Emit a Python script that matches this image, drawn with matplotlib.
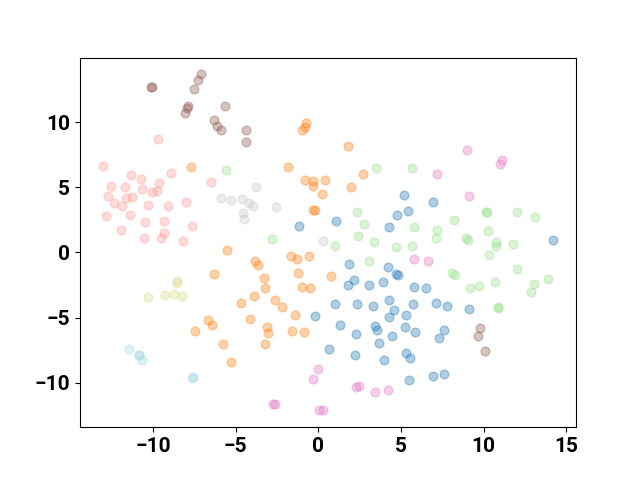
import numpy as np
import matplotlib
matplotlib.use('Agg')
import matplotlib.pyplot as plt

plt.rcParams['font.family'] = ['Roboto', 'DejaVu Sans']
plt.rcParams['font.weight'] = 'bold'

# embedded points per cluster (x, y)
blue_x = [5.21, 5.45, 4.78, 1.07, -1.19, 4.28, 6.94, 14.23, 1.86, 4.24, 4.70, 4.82,
          2.14, 1.77, 3.07, 3.89, 5.77, 6.52, 0.99, 2.34, 3.33, 4.26, 4.60, 5.75,
          5.33, 4.26, -0.22, 1.31, 2.26, 3.45, 3.57, 4.48, 5.22, 5.87, 3.65, 0.62,
          2.24, 3.95, 5.33, 5.57, 5.51, 7.14, 7.77, 9.12, 7.63, 7.32, 6.96, 7.58]
blue_y = [4.44, 3.18, 2.84, 2.38, 2.02, 1.92, 3.88, 0.97, -0.91, -1.10, -1.68, -1.74,
          -2.10, -2.53, -2.46, -2.28, -2.66, -2.69, -3.94, -3.92, -4.13, -3.64, -4.39, -3.92,
          -4.77, -4.98, -4.88, -5.58, -6.27, -5.65, -5.91, -6.39, -5.70, -6.08, -6.91, -7.37,
          -7.89, -8.25, -7.71, -8.07, -9.77, -3.90, -4.08, -4.36, -5.98, -6.53, -9.44, -9.31]

orange_x = [-7.73, -0.73, -0.83, -0.99, 1.77, -1.86, 2.71, -0.79, -0.35, -0.30, 0.38, 2.00,
            0.24, -0.30, -0.18, -5.55, -6.31, -1.65, -1.29, -0.54, -3.86, -3.67, -1.21, 0.79,
            -3.31, -3.21, -0.99, -0.50, -3.92, -2.62, -4.66, -2.20, -1.41, -4.12, -6.70, -6.43,
            -7.46, -5.79, -5.28, -3.09, -3.04, -1.59, -0.85, -3.23]
orange_y = [6.55, 9.92, 9.61, 9.38, 8.17, 6.53, 5.98, 5.58, 5.44, 5.11, 5.58, 5.03,
            4.49, 3.23, 3.23, 0.19, -1.64, -0.25, -0.53, -0.27, -0.68, -0.94, -1.61, -1.81,
            -1.97, -2.72, -2.66, -2.69, -3.32, -3.63, -3.90, -4.15, -4.80, -5.14, -5.19, -5.54,
            -6.06, -7.01, -8.40, -5.73, -6.19, -6.06, -6.08, -7.01]

green_x = [-5.59, 3.51, 5.65, 2.32, 2.78, 2.40, 3.37, -2.78, 1.01, 4.72, 5.65, 5.79,
           3.07, 10.21, 10.12, 12.00, 13.09, 8.19, 7.20, 7.10, 10.25, 8.96, 9.04, 10.77,
           10.73, 11.79, 10.33, 12.00, 8.11, 8.27, 9.18, 9.75, 10.71, 13.08, 13.92, 12.89,
           10.85, 10.90]
green_y = [6.35, 6.50, 6.45, 3.10, 2.18, 1.27, 0.79, 1.04, 0.48, 0.40, 0.50, 1.92,
           -0.66, 3.09, 3.07, 3.13, 2.72, 2.49, 1.74, 1.12, 1.61, 1.10, 0.94, 0.79,
           0.48, 0.66, -0.19, -1.25, -1.58, -1.76, -2.69, -2.56, -2.30, -2.41, -2.02, -3.05,
           -4.23, -4.18]

red_x = [-9.73, -13.06, -11.36, -10.73, -8.92, -9.62, -6.52, -12.57, -11.73, -10.70, -10.09, -9.75,
         -12.71, -11.64, -11.30, -12.37, -11.91, -10.29, -9.08, -8.01, -12.85, -11.40, -10.47, -9.32,
         -7.63, -11.97, -9.36, -9.52, -10.53, -8.21]
red_y = [8.71, 6.60, 5.91, 5.62, 6.06, 5.29, 5.41, 5.06, 5.00, 4.90, 4.62, 4.69,
         4.34, 4.21, 4.23, 3.80, 3.54, 3.64, 3.57, 3.90, 2.80, 2.84, 2.33, 2.41,
         2.02, 1.71, 1.51, 1.14, 1.14, 0.86]

brown_x = [-10.11, -10.09, -7.08, -7.31, -7.52, -7.89, -7.95, -8.07, -5.67, -6.31, -6.16, -5.87,
           -4.36, -4.38, 9.76, 9.67, 10.11]
brown_y = [12.72, 12.70, 13.65, 13.22, 12.55, 11.25, 11.06, 10.68, 11.25, 10.18, 9.68, 9.35,
           9.35, 8.46, -5.78, -6.39, -7.53]

pink_x = [9.02, 11.14, 11.00, 7.20, 9.10, 5.81, 6.64, -0.04, -0.32, 2.28, 2.44, 3.45,
          4.22, -2.74, -2.60, 0.04, 0.30]
pink_y = [7.84, 7.12, 6.76, 5.98, 4.29, -0.50, -0.66, -8.90, -9.67, -10.29, -10.23, -10.69,
          -10.52, -11.60, -11.60, -12.11, -12.06]

grey_x = [-5.87, -5.31, -4.64, -4.22, -4.54, -4.50, -3.77, -3.95, -2.56, 0.26]
grey_y = [4.21, 4.05, 4.08, 3.78, 3.03, 2.59, 4.98, 3.57, 3.49, 0.91]

olive_x = [-8.54, -8.58, -10.29, -9.28, -8.73, -8.25]
olive_y = [-2.18, -2.38, -3.38, -3.26, -3.18, -3.34]

cyan_x = [-11.48, -10.85, -10.83, -10.70, -7.63, -7.61]
cyan_y = [-7.43, -7.86, -7.84, -8.28, -9.59, -9.57]

groups = [
    (blue_x, blue_y, '#1f77b4'),
    (orange_x, orange_y, '#ff7f0e'),
    (green_x, green_y, '#98df8a'),
    (red_x, red_y, '#ff9896'),
    (brown_x, brown_y, '#8c564b'),
    (pink_x, pink_y, '#e377c2'),
    (grey_x, grey_y, '#c7c7c7'),
    (olive_x, olive_y, '#dbdb8d'),
    (cyan_x, cyan_y, '#9edae5'),
]

fig, ax = plt.subplots(figsize=(6.4, 4.8), dpi=100)
for xs, ys, col in groups:
    ax.scatter(xs, ys, s=40, c=col, alpha=0.35)

ax.tick_params(labelsize=15)
for lab in ax.get_xticklabels() + ax.get_yticklabels():
    lab.set_fontweight('bold')

fig.savefig('out.png')
